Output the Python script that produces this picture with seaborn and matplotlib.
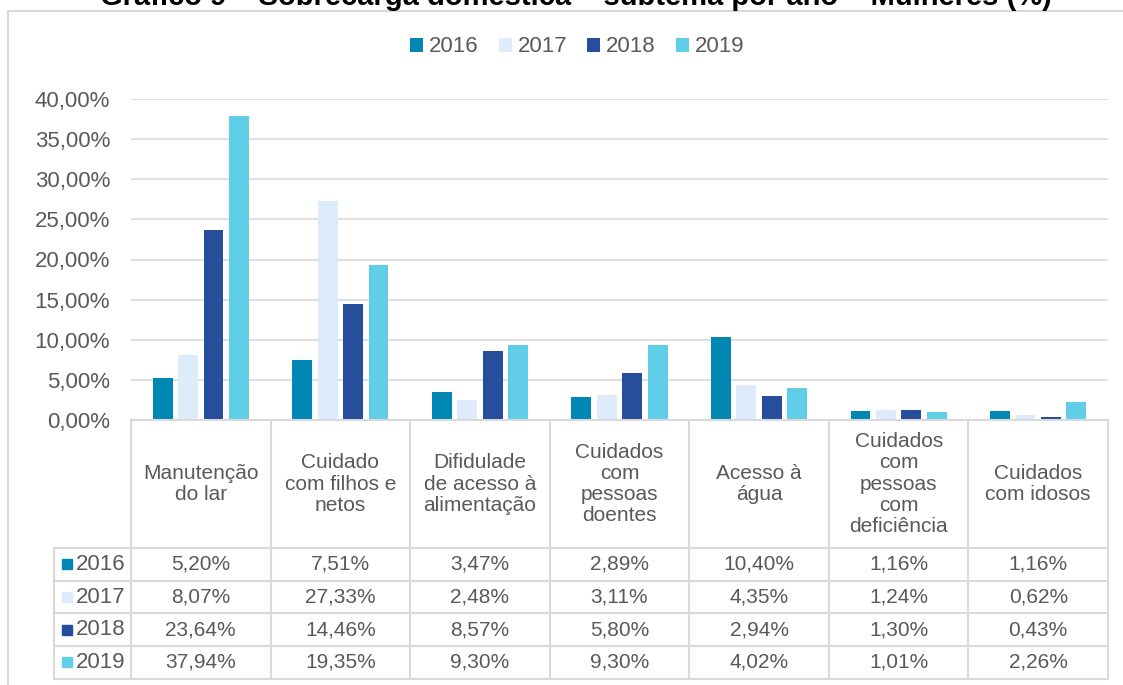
import numpy as np
import pandas as pd
import matplotlib.pyplot as plt
import seaborn as sns
from matplotlib.patches import Rectangle

# --- Dados ---
categorias = [
    "Manutenção\ndo lar",
    "Cuidado\ncom filhos e\nnetos",
    "Difidulade\nde acesso à\nalimentação",
    "Cuidados\ncom\npessoas\ndoentes",
    "Acesso à\nágua",
    "Cuidados\ncom\npessoas\ncom\ndeficiência",
    "Cuidados\ncom idosos",
]
anos = ["2016", "2017", "2018", "2019"]
v2016 = [5.20, 7.51, 3.47, 2.89, 10.40, 1.16, 1.16]
v2017 = [8.07, 27.33, 2.48, 3.11, 4.35, 1.24, 0.62]
v2018 = [23.64, 14.46, 8.57, 5.80, 2.94, 1.30, 0.43]
v2019 = [37.94, 19.35, 9.30, 9.30, 4.02, 1.01, 2.26]
cores = ["#0087B4", "#DDEBFB", "#264E9A", "#5FCEE6"]

titulo = "Gráfico 9 – Sobrecarga doméstica – subtema por ano – Mulheres (%)"

series = [v2016, v2017, v2018, v2019]
df = pd.DataFrame({
    "categoria": np.repeat([categorias], 4, axis=0).ravel(),
    "ano": np.repeat(anos, len(categorias)),
    "valor": np.concatenate(series),
})

# --- Estilo ---
sns.set_theme(style="white")
plt.rcParams['font.family'] = ['Liberation Sans', 'DejaVu Sans']
cinza_txt = "#595959"
cinza_lin = "#D9D9D9"

def fmt(v):
    return f"{v:.2f}".replace('.', ',') + '%'

W, H = 1123, 685
fig = plt.figure(figsize=(W / 100, H / 100), dpi=100)
ax = fig.add_axes([131 / W, 1 - 420 / H, (1108 - 131) / W, (420 - 99) / H])

sns.barplot(data=df, x="categoria", y="valor", hue="ano", palette=cores,
            width=0.73, gap=0.22, saturation=1, linewidth=0, ax=ax)

ax.set_ylim(0, 40)
ax.set_xlim(-0.5, len(categorias) - 0.5)
ax.set_yticks(np.arange(0, 41, 5))
ax.set_yticklabels([fmt(t) for t in np.arange(0, 41, 5)])
ax.tick_params(axis='y', labelsize=16, labelcolor=cinza_txt, length=0, pad=15)
ax.set_xticks([])
ax.set_xlabel("")
ax.set_ylabel("")
ax.grid(axis='y', color=cinza_lin, linewidth=1.2)
ax.set_axisbelow(True)
for s in ax.spines.values():
    s.set_visible(False)

# --- Legenda ---
handles, labels = ax.get_legend_handles_labels()
ax.get_legend().remove()
fig.legend(handles, labels, loc='center', bbox_to_anchor=(577 / W, 1 - 47 / H),
           ncol=4, frameon=False, fontsize=16, labelcolor=cinza_txt,
           handlelength=0.6, handleheight=0.6, handletextpad=0.25,
           columnspacing=0.9)

# --- Tabela de dados ---
n = len(categorias)
tr = ax.transAxes
ax_h = 321.0
cab = -128 / ax_h          # base da linha de cabeçalho
lin_h = 32.7 / ax_h        # altura de cada linha
x_leg = -77 / 977.0        # início da coluna de legenda
fundo = cab - 4 * lin_h
kw = dict(transform=tr, color=cinza_lin, linewidth=1.5, clip_on=False)

ax.plot([0, 1], [0, 0], **kw)
for i in range(n + 1):
    ax.plot([i / n, i / n], [0, fundo], **kw)
ax.plot([x_leg, x_leg], [cab, fundo], **kw)
for r in range(5):
    y = cab - r * lin_h
    ax.plot([x_leg, 1], [y, y], **kw)

for i, cat in enumerate(categorias):
    ax.text((i + 0.5) / n, cab / 2, cat, transform=tr, ha='center', va='center',
            fontsize=15, color=cinza_txt, linespacing=1.15, clip_on=False)

for r, (ano, vals, cor) in enumerate(zip(anos, series, cores)):
    yc = cab - (r + 0.5) * lin_h
    ax.add_patch(Rectangle((x_leg + 8 / 977, yc - 5 / ax_h), 10 / 977, 10 / ax_h,
                           transform=tr, color=cor, clip_on=False))
    ax.text(x_leg + 22 / 977, yc, ano, transform=tr, ha='left', va='center',
            fontsize=16, color=cinza_txt, clip_on=False)
    for i, v in enumerate(vals):
        ax.text((i + 0.5) / n, yc, fmt(v), transform=tr, ha='center', va='center',
                fontsize=15, color=cinza_txt, clip_on=False)

# --- Moldura e título (cortado no topo, como no original) ---
fig.patches.append(Rectangle((8 / W, -0.05), 1.0, 1 - 11 / H + 0.05,
                             transform=fig.transFigure, fill=False,
                             edgecolor=cinza_lin, linewidth=1.5))
fig.text(576 / W, 1 - 5 / H, titulo, ha='center', va='baseline',
         fontsize=21, fontweight='bold', color='black')

fig.savefig("out.png", dpi=100)
